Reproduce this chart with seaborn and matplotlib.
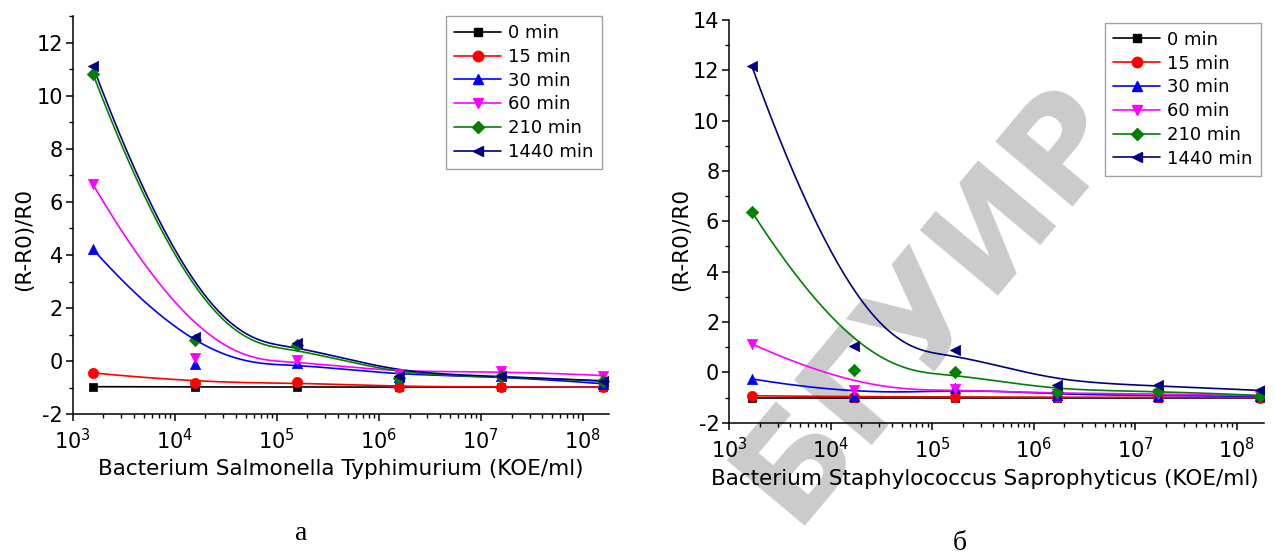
import numpy as np
import matplotlib
matplotlib.use("Agg")
import matplotlib.pyplot as plt
import seaborn as sns
from matplotlib.lines import Line2D
from matplotlib.ticker import LogLocator, MultipleLocator, NullFormatter

# series shared by both panels
labels = ["0 min", "15 min", "30 min", "60 min", "210 min", "1440 min"]
colors = ["#000000", "#ff0000", "#0000ff", "#ff00ff", "#008000", "#000080"]
markers = ["s", "o", "^", "v", "D", "<"]

# panel a: Salmonella Typhimurium
conc_a = [1.58e3, 1.58e4, 1.58e5, 1.58e6, 1.58e7, 1.58e8]
a_0 = [-0.96, -0.97, -0.97, -0.98, -0.98, -0.98]
a_15 = [-0.44, -0.81, -0.80, -0.97, -0.97, -0.98]
a_30 = [4.22, -0.09, -0.05, -0.58, -0.55, -0.85]
a_60 = [6.66, 0.12, 0.04, -0.48, -0.36, -0.54]
a_210 = [10.82, 0.80, 0.60, -0.64, -0.55, -0.76]
a_1440 = [11.10, 0.93, 0.70, -0.57, -0.55, -0.74]

# panel b: Staphylococcus Saprophyticus
conc_b = [1.68e3, 1.68e4, 1.68e5, 1.68e6, 1.68e7, 1.68e8]
b_0 = [-1.0, -1.0, -1.0, -1.0, -1.0, -1.0]
b_15 = [-0.93, -0.97, -0.97, -0.99, -0.99, -1.0]
b_30 = [-0.26, -0.92, -0.62, -0.90, -0.92, -0.95]
b_60 = [1.13, -0.69, -0.68, -0.85, -0.85, -0.93]
b_210 = [6.37, 0.11, 0.01, -0.80, -0.73, -0.92]
b_1440 = [12.15, 1.04, 0.87, -0.50, -0.52, -0.72]

series_a = [a_0, a_15, a_30, a_60, a_210, a_1440]
series_b = [b_0, b_15, b_30, b_60, b_210, b_1440]


def bspline(xs, ys, num=300, k=3):
    # clamped uniform B-spline using the points as control points (like Origin's B-Spline line)
    pts = np.column_stack([xs, ys]).astype(float)
    n = len(pts)
    knots = np.concatenate([np.zeros(k), np.arange(n - k + 1), np.full(k, n - k)])
    out = []
    for tt in np.linspace(0, n - k, num):
        i = min(np.searchsorted(knots, tt, side="right") - 1, n - 1)
        d = [pts[j + i - k].copy() for j in range(k + 1)]
        for r in range(1, k + 1):
            for j in range(k, r - 1, -1):
                lo = knots[j + i - k]
                alpha = (tt - lo) / (knots[j + 1 + i - r] - lo)
                d[j] = (1 - alpha) * d[j - 1] + alpha * d[j]
        out.append(d[k])
    return np.array(out)


sns.set_style("ticks")
plt.rcParams["font.family"] = ["DejaVu Sans"]
plt.rcParams["axes.linewidth"] = 1.1
plt.rcParams["axes.unicode_minus"] = False
for key in ("text.color", "axes.labelcolor", "xtick.color", "ytick.color", "axes.edgecolor"):
    plt.rcParams[key] = "black"

fig = plt.figure(figsize=(12.75, 5.53), dpi=100)
ax1 = fig.add_axes([0.0570, 0.2508, 0.4206, 0.7202])
ax2 = fig.add_axes([0.5718, 0.2356, 0.4196, 0.7286])


def draw_panel(ax, conc, series, ylim, xmax, xlabel):
    for vals, c, m in zip(series, colors, markers):
        curve = bspline(np.log10(conc), vals)
        sns.lineplot(x=10 ** curve[:, 0], y=curve[:, 1], ax=ax, color=c, linewidth=1.2,
                     sort=False, estimator=None)
        size = 40 if m in ("s", "D") else 55
        sns.scatterplot(x=conc, y=vals, ax=ax, marker=m, color=c, edgecolor=c,
                        linewidth=0.5, s=size, zorder=3)
    ax.set_xscale("log")
    ax.set_xlim(1e3, xmax)
    ax.set_ylim(*ylim)
    ax.xaxis.set_major_locator(LogLocator(base=10))
    ax.xaxis.set_minor_locator(LogLocator(base=10, subs=np.arange(2, 10)))
    ax.xaxis.set_minor_formatter(NullFormatter())
    ax.yaxis.set_major_locator(MultipleLocator(2))
    ax.yaxis.set_minor_locator(MultipleLocator(1))
    ax.tick_params(which="major", direction="out", length=5, width=1.1, labelsize=15,
                   colors="black")
    ax.tick_params(axis="x", which="major", pad=5)
    ax.tick_params(axis="y", which="major", pad=2)
    ax.tick_params(which="minor", direction="out", length=3, width=1.0, colors="black")
    ax.set_facecolor("none")
    sns.despine(ax=ax)
    ax.set_xlabel(xlabel, fontsize=15.5)
    ax.set_ylabel("(R-R0)/R0", fontsize=15.5)
    ax.xaxis.label.set_va("center")
    ax.yaxis.label.set_va("center")


draw_panel(ax1, conc_a, series_a, (-2, 13), 1.8e8,
           "Bacterium Salmonella Typhimurium (KOE/ml)")
draw_panel(ax2, conc_b, series_b, (-2, 14), 1.85e8,
           "Bacterium Staphylococcus Saprophyticus (KOE/ml)")

ax1.xaxis.set_label_coords(341 / 1275, 1 - 469 / 553, transform=fig.transFigure)
ax1.yaxis.set_label_coords(24 / 1275, 1 - 240 / 553, transform=fig.transFigure)
ax2.xaxis.set_label_coords(985 / 1275, 1 - 479 / 553, transform=fig.transFigure)
ax2.yaxis.set_label_coords(681 / 1275, 1 - 240 / 553, transform=fig.transFigure)

handles = [Line2D([0], [0], color=c, marker=m, linewidth=1.2,
                  markersize=6 if m in ("s", "D") else 7.5)
           for c, m in zip(colors, markers)]
for ax, anchor in ((ax1, (0.987, 1.0)), (ax2, (0.994, 0.993))):
    leg = ax.legend(handles, labels, loc="upper right", bbox_to_anchor=anchor,
                    borderaxespad=0, fontsize=13, frameon=True, fancybox=False,
                    handlelength=2.6, handletextpad=0.4, labelspacing=0.32,
                    borderpad=0.45)
    leg.get_frame().set_edgecolor("#8c8c8c")
    leg.get_frame().set_linewidth(1.0)

# panel letters
fig.text(301 / 1275, 1 - 533 / 553, "а", fontsize=20, family=["Liberation Serif"],
         ha="center", va="center")
fig.text(960 / 1275, 1 - 543 / 553, "б", fontsize=20, family=["Liberation Serif"],
         ha="center", va="center")

# watermark behind the right panel
fig.text(930 / 1275, 1 - 302 / 553, "БГУИР", fontsize=100, color="#cbcbcb",
         weight="bold", rotation=50, ha="center", va="center", zorder=-1,
         family=["DejaVu Sans"])

fig.savefig("out.png", dpi=100)
